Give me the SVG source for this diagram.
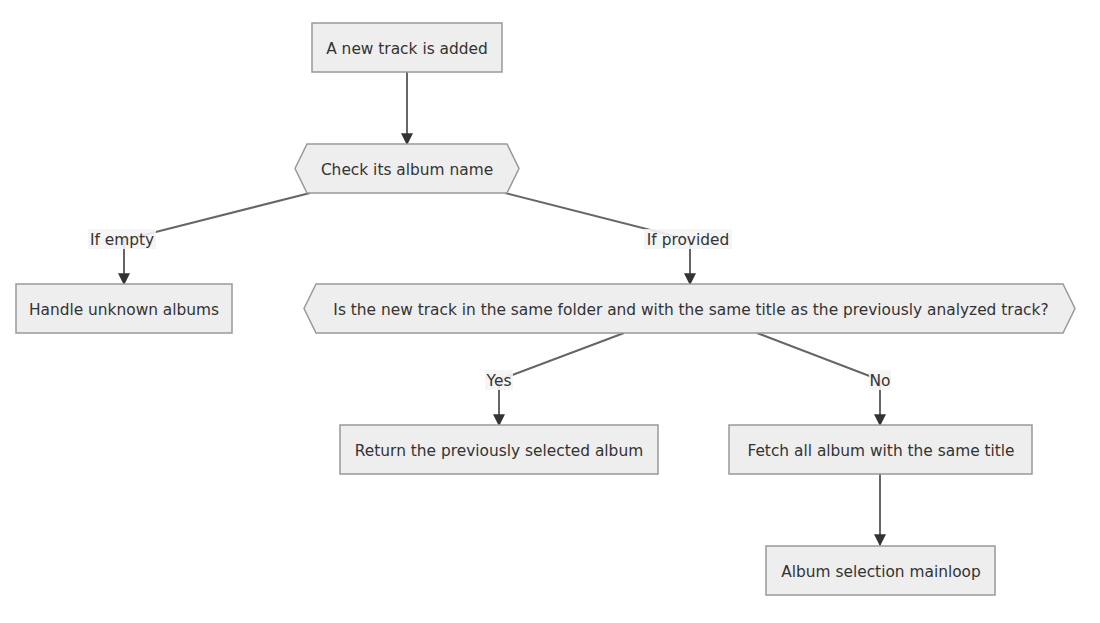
<svg xmlns="http://www.w3.org/2000/svg" width="1100" height="623" viewBox="0 0 1100 623">
<defs>
<style>
.node rect, .node polygon { fill: #eeeeee; stroke: #999999; stroke-width: 1.5; }
.node text { font-family: "DejaVu Sans", Verdana, sans-serif; font-size: 15.4px; fill: #333333; text-anchor: middle; dominant-baseline: central; }
.edge { fill: none; stroke: #666666; stroke-width: 2; marker-end: url(#arrow); }
.lbl rect { fill: #f4f4f4; opacity: 0.9; }
.lbl text { font-family: "DejaVu Sans", Verdana, sans-serif; font-size: 15.4px; fill: #333333; text-anchor: middle; dominant-baseline: central; }
</style>
<marker id="arrow" viewBox="0 0 10 10" refX="9" refY="5" markerWidth="6" markerHeight="6" markerUnits="strokeWidth" orient="auto">
<path d="M0,0 L10,5 L0,10 z" fill="#333333"/>
</marker>
</defs>
<rect width="1100" height="623" fill="#ffffff"/>
<g id="connectors">
<polyline class="edge" points="407,72 407,144"/>
<polyline class="edge" points="310,193 124,240 124,284"/>
<polyline class="edge" points="505,193 690,240 690,284"/>
<polyline class="edge" points="624,333 499,380 499,425"/>
<polyline class="edge" points="757,333 880,380 880,425"/>
<polyline class="edge" points="880,474 880,545"/>
</g>
<g id="labels">
<g class="lbl"><rect x="88" y="229" width="68" height="20"/><text x="122" y="240">If empty</text></g>
<g class="lbl"><rect x="644" y="229" width="88" height="20"/><text x="688" y="240">If provided</text></g>
<g class="lbl"><rect x="485" y="370" width="28" height="20"/><text x="499" y="381">Yes</text></g>
<g class="lbl"><rect x="869" y="370" width="22" height="20"/><text x="880" y="381">No</text></g>
</g>
<g id="nodeA" class="node"><rect x="312" y="23" width="190" height="49"/><text x="407" y="49">A new track is added</text></g>
<g id="nodeB" class="node"><polygon points="295,168.5 307,144 507,144 519,168.5 507,193 307,193"/><text x="407" y="170">Check its album name</text></g>
<g id="nodeC" class="node"><rect x="16" y="284" width="216" height="49"/><text x="124" y="310">Handle unknown albums</text></g>
<g id="nodeD" class="node"><polygon points="304,308.5 316,284 1063,284 1075,308.5 1063,333 316,333"/><text x="691" y="310">Is the new track in the same folder and with the same title as the previously analyzed track?</text></g>
<g id="nodeE" class="node"><rect x="340" y="425" width="318" height="49"/><text x="499" y="451">Return the previously selected album</text></g>
<g id="nodeF" class="node"><rect x="729" y="425" width="303" height="49"/><text x="881" y="451">Fetch all album with the same title</text></g>
<g id="nodeG" class="node"><rect x="766" y="546" width="229" height="49"/><text x="881" y="572">Album selection mainloop</text></g>
</svg>
